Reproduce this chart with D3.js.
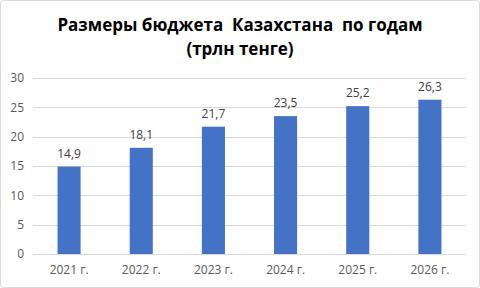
<!DOCTYPE html>
<html>
<head>
<meta charset="utf-8">
<script src="https://cdn.jsdelivr.net/npm/d3@7"></script>
<style>
  body { margin: 0; background: #fff; }
  svg { display: block; }
</style>
</head>
<body>
<svg id="chart"></svg>
<script>
// data
const years = ['2021 г.', '2022 г.', '2023 г.', '2024 г.', '2025 г.', '2026 г.']
const budget = [14.9, 18.1, 21.7, 23.5, 25.2, 26.3]
const yTicks = [0, 5, 10, 15, 20, 25, 30]
const titleLines = ['Размеры бюджета  Казахстана  по годам', '(трлн тенге)']

const width = 480, height = 288
const margin = {top: 78, right: 14, bottom: 34, left: 33}

const svg = d3.select('#chart')
    .attr('width', width)
    .attr('height', height)

svg.append('rect')
    .attr('x', 0.5).attr('y', 0.5)
    .attr('width', width - 1).attr('height', height - 1)
    .attr('rx', 3)
    .attr('fill', '#fff')
    .attr('stroke', '#d9d9d9')

const x = d3.scaleBand()
    .domain(years)
    .range([margin.left, width - margin.right])
    .paddingInner(0.68)
    .paddingOuter(0.34)

const y = d3.scaleLinear()
    .domain([0, 30])
    .range([height - margin.bottom, margin.top])

// gridlines
svg.append('g')
    .selectAll('line')
    .data(yTicks)
    .enter()
    .append('line')
    .attr('x1', margin.left)
    .attr('x2', width - margin.right)
    .attr('y1', d => Math.round(y(d)) + 0.5)
    .attr('y2', d => Math.round(y(d)) + 0.5)
    .attr('stroke', '#d9d9d9')

// y axis labels
const yAxis = svg.append('g')
    .attr('transform', `translate(${margin.left - 9},0)`)
    .call(d3.axisLeft(y).tickValues(yTicks).tickSize(0).tickPadding(0))
yAxis.select('.domain').remove()
yAxis.selectAll('text')
    .attr('fill', '#595959')
    .style('font', '12px "Open Sans", sans-serif')

// x axis labels
const xAxis = svg.append('g')
    .attr('transform', `translate(0,${height - margin.bottom})`)
    .call(d3.axisBottom(x).tickSize(0).tickPadding(11))
xAxis.select('.domain').remove()
xAxis.selectAll('text')
    .attr('fill', '#595959')
    .style('font', '12px "Open Sans", sans-serif')

// bars
svg.append('g')
    .selectAll('rect')
    .data(budget)
    .enter()
    .append('rect')
    .attr('x', (d, i) => x(years[i]))
    .attr('y', d => y(d))
    .attr('width', x.bandwidth())
    .attr('height', d => y(0) - y(d))
    .attr('fill', '#4472c4')

// value labels
svg.append('g')
    .selectAll('text')
    .data(budget)
    .enter()
    .append('text')
    .attr('x', (d, i) => x(years[i]) + x.bandwidth() / 2)
    .attr('y', d => y(d) - 9)
    .attr('text-anchor', 'middle')
    .attr('fill', '#404040')
    .style('font', '12px "Open Sans", sans-serif')
    .text(d => d.toFixed(1).replace('.', ','))

// title
svg.append('text')
    .attr('x', width / 2)
    .attr('y', 31)
    .attr('text-anchor', 'middle')
    .attr('fill', '#000')
    .style('font', 'bold 17px "Open Sans", sans-serif')
    .selectAll('tspan')
    .data(titleLines)
    .enter()
    .append('tspan')
    .attr('x', width / 2)
    .attr('dy', (d, i) => i ? 24 : 0)
    .style('white-space', 'pre')
    .text(d => d)
</script>
</body>
</html>
